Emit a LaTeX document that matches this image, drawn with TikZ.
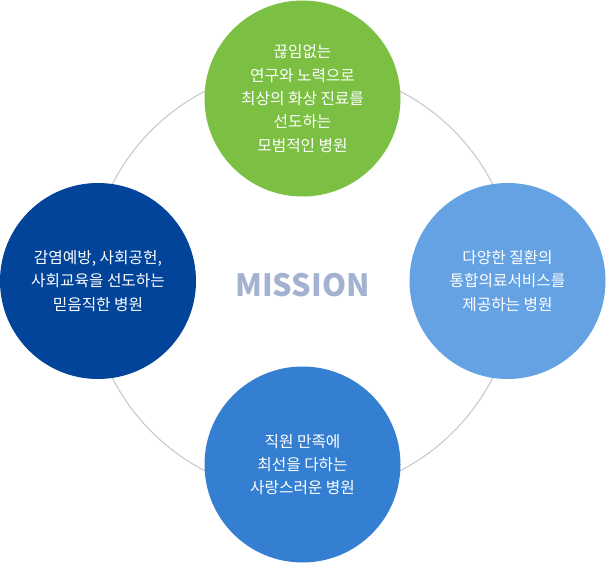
\documentclass[tikz,border=0pt]{standalone}
\usepackage{fontspec}
\setmainfont{Noto Sans CJK KR}
\usetikzlibrary{positioning}
\definecolor{misgreen}{RGB}{123,192,66}
\definecolor{misnavy}{RGB}{2,68,153}
\definecolor{missky}{RGB}{101,162,228}
\definecolor{misblue}{RGB}{52,127,210}
\definecolor{misring}{RGB}{200,200,200}
\definecolor{mistitle}{RGB}{163,178,208}
\tikzset{
  mcirc/.style={circle, minimum size=147pt, inner sep=0pt,
                text=white, align=center,
                font=\fontsize{11.8}{17.5}\selectfont},
  mtitle/.style={text=mistitle, inner sep=0pt,
                 font=\fontsize{23}{23}\selectfont\bfseries},
}
\begin{document}
\begin{tikzpicture}[x=0.75pt,y=-0.75pt]
\useasboundingbox (0,0) rectangle (606,563);
% ring behind the four mission circles
\coordinate (hub) at (302.5,281);
\draw[misring, line width=0.8pt] (hub) circle (160pt);
\node[mcirc, fill=misgreen] (top) at (302.5,98.5)
  {끊임없는\\연구와 노력으로\\최상의 화상 진료를\\선도하는\\모범적인 병원};
\node[mcirc, fill=misnavy] (west) at (98,281)
  {감염예방, 사회공헌,\\사회교육을 선도하는\\믿음직한 병원};
\node[mcirc, fill=missky] (east) at (507.5,281)
  {다양한 질환의\\통합의료서비스를\\제공하는 병원};
\node[mcirc, fill=misblue] (bottom) at (302.5,464.5)
  {직원 만족에\\최선을 다하는\\사랑스러운 병원};
\node[mtitle] (mission) at (302.5,285) {MISSION};
\end{tikzpicture}
\end{document}
